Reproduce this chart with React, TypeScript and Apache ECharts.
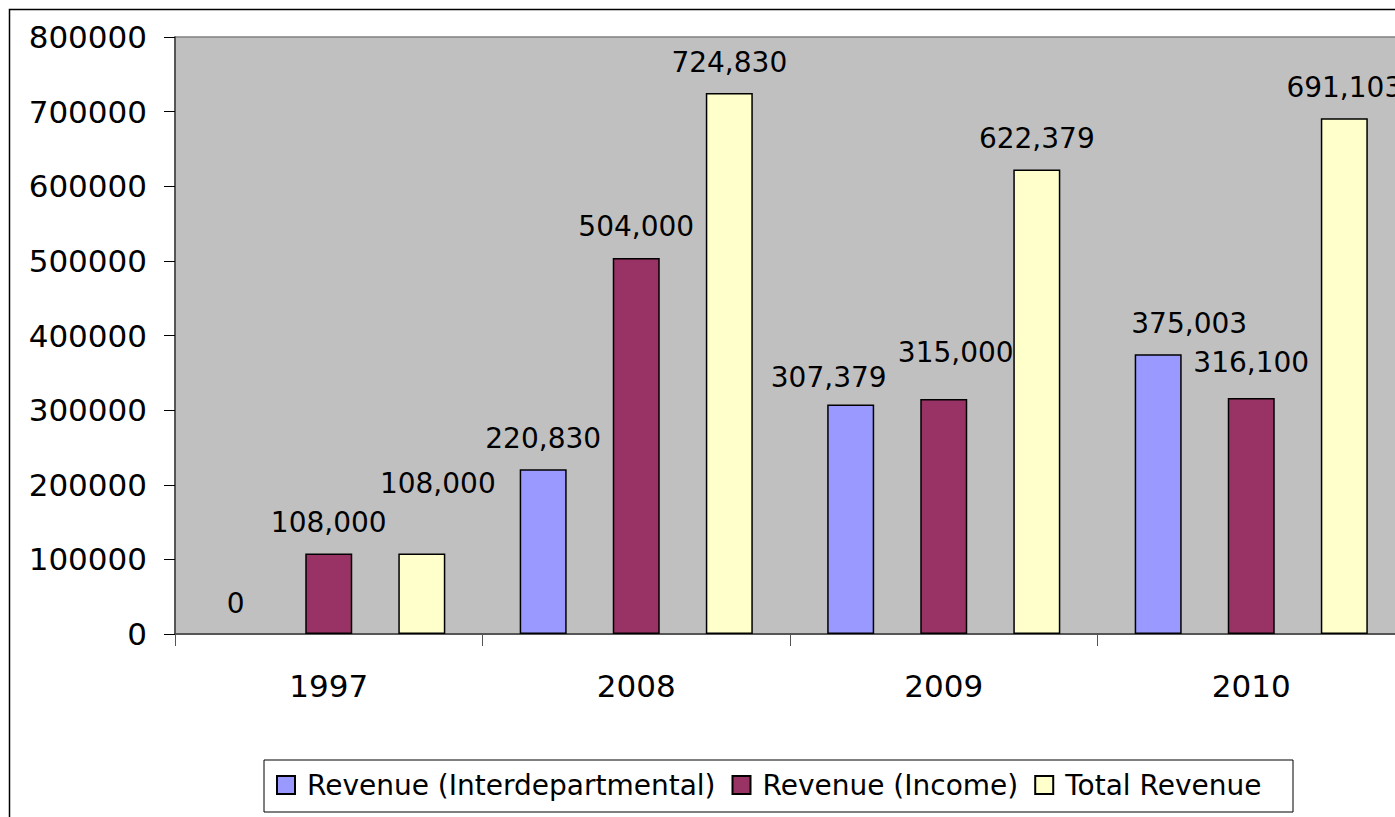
import React, { useEffect, useRef } from "react";
import * as echarts from "echarts";

const categories = ["1997", "2008", "2009", "2010"];
const seriesNames = ["Revenue (Interdepartmental)", "Revenue (Income)", "Total Revenue"];
const interdepartmental = [0, 220830, 307379, 375003];
const income = [108000, 504000, 315000, 316100];
const totalRevenue = [108000, 724830, 622379, 691103];
const yTicks = { min: 0, max: 800000, interval: 100000 };

const colors = ["#9999FF", "#993366", "#FFFFCC"];
// label nudges [series][category] -> [dx, dy]
const labelNudges: Record<string, [number, number]> = {
  "2-0": [16, -39],
  "0-2": [-22, 4],
  "1-2": [12, -15],
  "0-3": [31, 0],
  "1-3": [0, -5],
};

const FONT = "DejaVu Sans";

export default function App() {
  const ref = useRef<HTMLDivElement>(null);
  useEffect(() => {
    if (!ref.current) return;
    const chart = echarts.init(ref.current, undefined, { renderer: "svg" });
    const values = [interdepartmental, income, totalRevenue];
    const series = values.map((vals, si) => ({
      name: seriesNames[si],
      type: "bar",
      barWidth: 47,
      barGap: "98%",
      itemStyle: { color: colors[si], borderColor: "#000", borderWidth: 1.5 },
      label: {
        show: true,
        position: "top",
        distance: 17,
        fontFamily: FONT,
        fontSize: 28,
        lineHeight: 28,
        color: "#000",
        formatter: (p: any) => Number(p.value).toLocaleString("en-US"),
      },
      data: vals.map((v, ci) => {
        const n = labelNudges[`${si}-${ci}`];
        const item: any = { value: v };
        if (n) item.label = { offset: n };
        if (v === 0) item.itemStyle = { borderWidth: 0 };
        return item;
      }),
    }));
    chart.setOption({
      animation: false,
      backgroundColor: "#fff",
      grid: {
        left: 175,
        top: 37,
        width: 1230,
        bottom: 183,
        show: true,
        backgroundColor: "#C0C0C0",
        borderColor: "#808080",
        borderWidth: 1.5,
        containLabel: false,
        outerBoundsMode: "none",
      },
      xAxis: {
        type: "category",
        data: categories,
        axisLine: { lineStyle: { color: "#404040", width: 1.5 } },
        axisTick: { show: true, length: 12, lineStyle: { color: "#555", width: 1 } },
        axisLabel: {
          fontFamily: FONT,
          fontSize: 31,
          lineHeight: 31,
          color: "#000",
          margin: 36,
        },
        splitLine: { show: false },
      },
      yAxis: {
        type: "value",
        min: yTicks.min,
        max: yTicks.max,
        interval: yTicks.interval,
        axisLine: { show: true, lineStyle: { color: "#404040", width: 1.5 } },
        axisTick: { show: true, length: 11, lineStyle: { color: "#000", width: 1 } },
        axisLabel: {
          fontFamily: FONT,
          fontSize: 31,
          color: "#000",
          margin: 28,
          formatter: (v: number) => String(v),
        },
        splitLine: { show: false },
      },
      legend: {
        left: 271,
        top: 766,
        itemWidth: 18,
        itemHeight: 18,
        itemGap: 16,
        icon: "rect",
        data: seriesNames,
        textStyle: {
          fontFamily: FONT,
          fontSize: 28,
          lineHeight: 28,
          color: "#000",
          padding: [0, 0, 0, 7],
        },
      },
      graphic: [
        {
          type: "rect",
          z: 0,
          silent: true,
          shape: { x: 9.5, y: 9.5, width: 1500, height: 1000 },
          style: { fill: "transparent", stroke: "#000", lineWidth: 1.5 },
        },
        {
          type: "rect",
          z: 0,
          silent: true,
          shape: { x: 264, y: 760, width: 1029, height: 52 },
          style: { fill: "transparent", stroke: "#000", lineWidth: 1 },
        },
      ],
      series,
    });
    return () => chart.dispose();
  }, []);
  return (
    <div
      ref={ref}
      style={{ position: "absolute", left: 0, top: 0, width: 1395, height: 817 }}
    />
  );
}
